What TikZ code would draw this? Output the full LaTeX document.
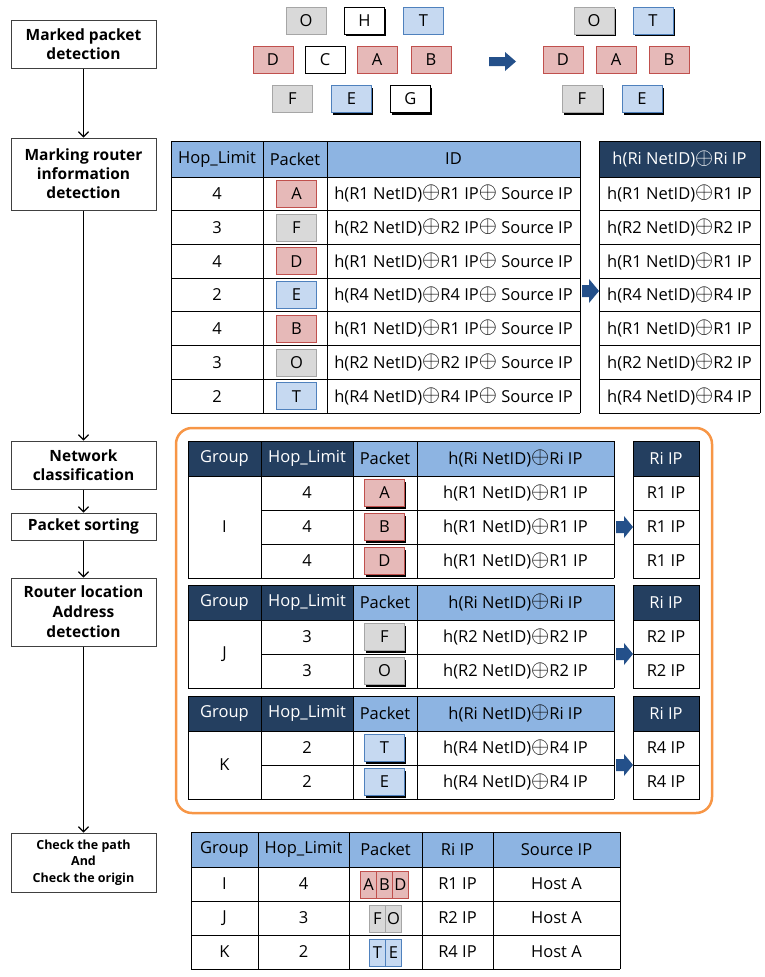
\documentclass[tikz,border=0pt]{standalone}
\usepackage{fontspec}
\setmainfont{Open Sans}
\usetikzlibrary{arrows.meta,shadows}

\newcommand\ox{\raisebox{0.8pt}{\scalebox{1.35}{$\oplus$}}}
\newcommand\tabfont{\fontsize{16.5}{19}\selectfont}

\definecolor{navy}{HTML}{243F60}
\definecolor{hdblue}{HTML}{8DB4E2}
\definecolor{arrblue}{HTML}{24508A}
\definecolor{frame}{HTML}{F79646}
\definecolor{rdF}{HTML}{E6B9B8}
\definecolor{rdL}{HTML}{C0504D}
\definecolor{gyF}{HTML}{D9D9D9}
\definecolor{gyL}{HTML}{A6A6A6}
\definecolor{blF}{HTML}{C6D9F1}
\definecolor{blL}{HTML}{4F81BD}
\definecolor{whF}{HTML}{FFFFFF}
\definecolor{whL}{HTML}{000000}

\tikzset{
  stepbox/.style={draw=black!75, line width=1pt, fill=white, minimum width=145pt,
    align=center, inner sep=2pt, font=\fontsize{15.5}{19}\selectfont\bfseries},
  flow/.style={line width=1.2pt, -{Straight Barb[length=5pt,width=10pt]}},
  pk/.style={draw=#1L, fill=#1F, line width=0.8pt, minimum width=40pt,
    minimum height=27pt, inner sep=0pt, font=\tabfont},
  thinpk/.style={pk=#1, minimum width=16pt},
  shd/.style={drop shadow={shadow xshift=1.5pt, shadow yshift=-2pt, fill=black, opacity=1}},
  tline/.style={line width=0.9pt, black},
  cell/.style={font=\tabfont, inner sep=0pt},
  wcell/.style={cell, text=white},
}

% block arrow: x left, y centre, length, shaft half height, head half height, head length
\newcommand\blkarrow[6]{%
  \fill[arrblue] (#1,#2-#4) -- (#1+#3-#6,#2-#4) -- (#1+#3-#6,#2-#5) -- (#1+#3,#2)
    -- (#1+#3-#6,#2+#5) -- (#1+#3-#6,#2+#4) -- (#1,#2+#4) -- cycle;}

% group table: top, rows, group, hop, router, colour, packets
\newcommand\grouptab[7]{%
  \pgfmathsetmacro\hb{#1+35}
  \pgfmathsetmacro\gb{#1+35+34*#2}
  \pgfmathsetmacro\gm{#1+35+17*#2}
  \fill[navy] (188,#1) rectangle (353,\hb);
  \fill[hdblue] (353,#1) rectangle (614,\hb);
  \fill[navy] (633,#1) rectangle (699,\hb);
  \node[wcell] (grp#3) at (224.5,#1+17.5) {Group};
  \node[wcell] (hop#3) at (307,#1+17.5) {Hop\_Limit};
  \node[cell] (pkt#3) at (385,#1+17.5) {Packet};
  \node[cell] (hid#3) at (515.5,#1+17.5) {h(Ri NetID)\ox Ri IP};
  \node[wcell] (rip#3) at (666,#1+17.5) {Ri IP};
  \node[cell] (name#3) at (224.5,\gm) {#3};
  \foreach \p [count=\i] in {#7}{
    \pgfmathsetmacro\yc{\hb+34*(\i-0.5)}
    \node[cell] at (307,\yc) {#4};
    \node[pk=#6,shd] (g#3\p) at (384.5,\yc) {\p};
    \node[cell] at (515.5,\yc) {h(R#5 NetID)\ox R#5 IP};
    \node[cell] at (666,\yc) {R#5 IP};
    \draw[tline] (261,\yc+17) -- (614,\yc+17) (633,\yc+17) -- (699,\yc+17);
  }
  \draw[tline] (188,#1) -- (614,#1) (188,\hb) -- (614,\hb) (188,\gb) -- (614,\gb);
  \foreach \x in {188,261,353,417,614} \draw[tline] (\x,#1) -- (\x,\gb);
  \draw[tline] (633,#1) rectangle (699,\gb) (633,\hb) -- (699,\hb);
  \blkarrow{616}{\gm}{17}{6}{11}{9}
}

\begin{document}
\begin{tikzpicture}[x=1pt,y=-1pt]
\useasboundingbox (0,0) rectangle (764,977);

% steps on the left
\node[stepbox, minimum height=48pt] (mpd) at (83.5,44) {Marked packet\\detection};
\node[stepbox, minimum height=72pt] (mri) at (83.5,174) {Marking router\\information\\detection};
\node[stepbox, minimum height=48pt] (ncl) at (83.5,465) {Network\\classification};
\node[stepbox, minimum height=27pt] (pso) at (83.5,526.5) {Packet sorting};
\node[stepbox, minimum height=68pt, font=\fontsize{15.5}{20}\selectfont\bfseries] (rla) at (83.5,612) {Router location\\Address\\detection};
\node[stepbox, minimum height=59pt, font=\fontsize{12.5}{16.5}\selectfont\bfseries] (cpo) at (83.5,862.5) {Check the path\\And\\Check the origin};
\draw[flow] (mpd) -- (mri);
\draw[flow] (mri) -- (ncl);
\draw[flow] (ncl) -- (pso);
\draw[flow] (pso) -- (rla);
\draw[flow] (rla) -- (cpo);

% marked packets
\node[pk=gy] (lO) at (306,20.5) {O};
\node[pk=wh,shd] (lH) at (364.5,20.5) {H};
\node[pk=bl] (lT) at (423.5,20.5) {T};
\node[pk=rd] (lD) at (273,59.5) {D};
\node[pk=wh] (lC) at (325,59.5) {C};
\node[pk=rd] (lA) at (377,59.5) {A};
\node[pk=rd] (lB) at (431,59.5) {B};
\node[pk=gy] (lF) at (292.5,99) {F};
\node[pk=bl,shd] (lE) at (351.5,99) {E};
\node[pk=wh,shd] (lG) at (410.5,99) {G};
\blkarrow{489}{61.5}{27}{4.5}{9.5}{11}
\node[pk=gy,shd] (rO) at (594,20.5) {O};
\node[pk=bl,shd] (rT) at (653,20.5) {T};
\node[pk=rd] (rD) at (563,59.5) {D};
\node[pk=rd] (rA) at (616,59.5) {A};
\node[pk=rd] (rB) at (669,59.5) {B};
\node[pk=gy,shd] (rF) at (582,99) {F};
\node[pk=bl,shd] (rE) at (642,99) {E};

% router information table
\fill[hdblue] (171,141) rectangle (580,177);
\fill[navy] (599,141) rectangle (760,177);
\node[cell] (hop) at (217,159) {Hop\_Limit};
\node[cell] (pkt) at (295,159) {Packet};
\node[cell] (id) at (453.5,159) {ID};
\node[wcell] (hid) at (679.5,159) {h(Ri NetID)\ox Ri IP};
\foreach \hl/\p/\cl/\n [count=\i] in {4/A/rd/1,3/F/gy/2,4/D/rd/1,2/E/bl/4,4/B/rd/1,3/O/gy/2,2/T/bl/4}{
  \pgfmathsetmacro\yc{177+33.71*(\i-0.5)}
  \node[cell] at (217,\yc) {\hl};
  \node[pk=\cl] (t\p) at (296.5,\yc) {\p};
  \node[cell] at (453.5,\yc) {h(R\n{} NetID)\ox R\n{} IP\ox{} Source IP};
  \node[cell] at (679.5,\yc) {h(R\n{} NetID)\ox R\n{} IP};
}
\foreach \i in {0,...,7}
  \draw[tline] (171,177+33.71*\i) -- (580,177+33.71*\i) (599,177+33.71*\i) -- (760,177+33.71*\i);
\draw[tline] (171,141) -- (580,141) (599,141) -- (760,141);
\foreach \x in {171,263,327,580,599,760} \draw[tline] (\x,141) -- (\x,413);
\blkarrow{582}{291}{17}{6}{12}{10}

% grouped tables
\draw[frame, line width=2.5pt, rounded corners=16pt] (176,428) rectangle (712,813);
\grouptab{441}{3}{I}{4}{1}{rd}{A,B,D}
\grouptab{585}{2}{J}{3}{2}{gy}{F,O}
\grouptab{696}{2}{K}{2}{4}{bl}{T,E}

% result table
\fill[hdblue] (191,832) rectangle (620,867);
\node[cell] (bgrp) at (224.5,849.5) {Group};
\node[cell] (bhop) at (303.5,849.5) {Hop\_Limit};
\node[cell] (bpkt) at (385.5,849.5) {Packet};
\node[cell] (brip) at (457.5,849.5) {Ri IP};
\node[cell] (bsrc) at (556.5,849.5) {Source IP};
\foreach \g/\hl/\n [count=\i] in {I/4/1,J/3/2,K/2/4}{
  \pgfmathsetmacro\yc{867+34*(\i-0.5)}
  \node[cell] at (224.5,\yc) {\g};
  \node[cell] at (303.5,\yc) {\hl};
  \node[cell] at (457.5,\yc) {R\n{} IP};
  \node[cell] at (556.5,\yc) {Host A};
}
\node[thinpk=rd] (bA) at (368.5,884.5) {A};
\node[thinpk=rd] (bB) at (384.5,884.5) {B};
\node[thinpk=rd] (bD) at (400.5,884.5) {D};
\node[thinpk=gy] (bF) at (377.5,918.5) {F};
\node[thinpk=gy] (bO) at (393.5,918.5) {O};
\node[thinpk=bl] (bT) at (377.5,952.5) {T};
\node[thinpk=bl] (bE) at (393.5,952.5) {E};
\foreach \y in {832,867,901,935,969} \draw[tline] (191,\y) -- (620,\y);
\foreach \x in {191,258,349,422,493,620} \draw[tline] (\x,832) -- (\x,969);
\end{tikzpicture}
\end{document}
